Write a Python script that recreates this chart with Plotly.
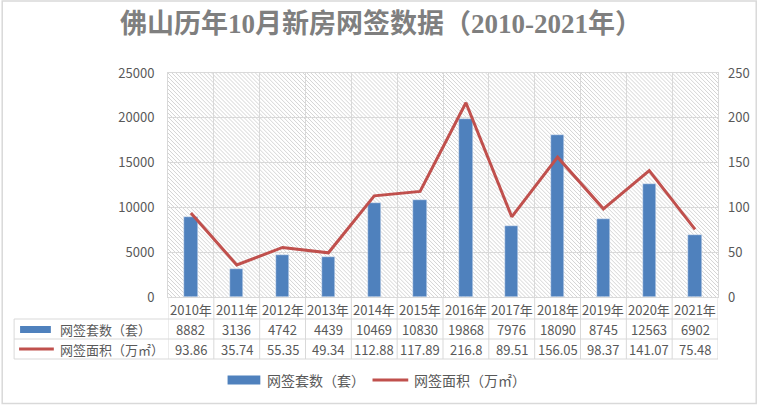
import base64
import plotly.graph_objects as go

# ---------------- data ----------------
years = ["2010年", "2011年", "2012年", "2013年", "2014年", "2015年",
         "2016年", "2017年", "2018年", "2019年", "2020年", "2021年"]
units = [8882, 3136, 4742, 4439, 10469, 10830, 19868, 7976, 18090, 8745, 12563, 6902]
area = [93.86, 35.74, 55.35, 49.34, 112.88, 117.89, 216.8, 89.51, 156.05, 98.37, 141.07, 75.48]
series_names = ["网签套数（套）", "网签面积（万㎡）"]
title_text = "佛山历年10月新房网签数据（2010-2021年）"

# ---------------- layout geometry (pixels) ----------------
W, H = 762, 405
PL, PR, PT, PB = 168, 722, 73, 297          # plot area box
PW, PH = PR - PL, PB - PT


def px(xp):
    return (xp - PL) / PW


def py(yp):
    return (PB - yp) / PH


BLUE = "#4F81BD"
RED = "#C0504D"
GRID = "#D9D9D9"
TXT = "#595959"
FONT = "Noto Sans CJK SC, Noto Sans, sans-serif"

# hatch background as svg image
svg = (
    f'<svg xmlns="http://www.w3.org/2000/svg" width="{PW}" height="{PH}">'
    '<defs><pattern id="p" width="4" height="4" patternUnits="userSpaceOnUse">'
    '<path d="M-1,-1 L5,5 M-1,3 L1,5 M3,-1 L5,1" stroke="#CFCFCF" stroke-width="0.9"/>'
    '</pattern></defs>'
    f'<rect width="{PW}" height="{PH}" fill="white"/>'
    f'<rect width="{PW}" height="{PH}" fill="url(#p)"/></svg>'
)
svg_uri = "data:image/svg+xml;base64," + base64.b64encode(svg.encode()).decode()

fig = go.Figure()
fig.add_trace(go.Bar(x=years, y=units, name=series_names[0], marker_color=BLUE,
                     width=0.29, yaxis="y"))
fig.add_trace(go.Scatter(x=years, y=area, name=series_names[1], mode="lines",
                         line=dict(color=RED, width=3), yaxis="y2"))

shapes = []
annotations = []


def ann(x, y, text, xref="paper", xanchor="center", size=13):
    annotations.append(dict(x=x, y=y, xref=xref, yref="paper", text=text,
                            xanchor=xanchor, yanchor="middle", showarrow=False,
                            font=dict(size=size, color=TXT, family=FONT)))


# table rows (pixel y)
R0, R1, R2, R3 = PB, 319, 339, 359
TL = 13  # table left

# horizontal table lines
for yy in (R1, R2, R3):
    shapes.append(dict(type="line", xref="paper", yref="paper", x0=px(TL), x1=1,
                       y0=py(yy), y1=py(yy), line=dict(color=GRID, width=1)))
# left table edge
shapes.append(dict(type="line", xref="paper", yref="paper", x0=px(TL), x1=px(TL),
                   y0=py(R1), y1=py(R3), line=dict(color=GRID, width=1)))
# vertical table lines at category boundaries
for i in range(len(years) + 1):
    shapes.append(dict(type="line", xref="x", yref="paper", x0=i - 0.5, x1=i - 0.5,
                       y0=py(R0), y1=py(R3), line=dict(color=GRID, width=1)))

# table text
for i, yr in enumerate(years):
    ann(i, py((R0 + R1) / 2 + 1), yr, xref="x")
    ann(i, py((R1 + R2) / 2), str(units[i]), xref="x")
    ann(i, py((R2 + R3) / 2), f"{area[i]:g}", xref="x")

# left column legend keys in table
shapes.append(dict(type="rect", xref="paper", yref="paper", x0=px(19), x1=px(50),
                   y0=py(333), y1=py(326), fillcolor=BLUE, line=dict(width=0)))
shapes.append(dict(type="line", xref="paper", yref="paper", x0=px(18), x1=px(53),
                   y0=py(349), y1=py(349), line=dict(color=RED, width=3)))
ann(px(57), py((R1 + R2) / 2), series_names[0], xanchor="left")
ann(px(57), py((R2 + R3) / 2), series_names[1], xanchor="left")

# bottom legend
LY = 380
shapes.append(dict(type="rect", xref="paper", yref="paper", x0=px(228), x1=px(261),
                   y0=py(LY + 4.5), y1=py(LY - 4.5), fillcolor=BLUE, line=dict(width=0)))
ann(px(266), py(LY), series_names[0], xanchor="left", size=14)
shapes.append(dict(type="line", xref="paper", yref="paper", x0=px(374), x1=px(410),
                   y0=py(LY), y1=py(LY), line=dict(color=RED, width=3)))
ann(px(414), py(LY), series_names[1], xanchor="left", size=14)

# outer frame
shapes.append(dict(type="rect", xref="paper", yref="paper", x0=px(1), x1=px(760.5),
                   y0=py(403.5), y1=py(1), line=dict(color=GRID, width=1.5)))

fig.update_layout(
    width=W, height=H,
    margin=dict(l=PL, r=W - PR, t=PT, b=H - PB, pad=0),
    paper_bgcolor="white",
    plot_bgcolor="rgba(0,0,0,0)",
    showlegend=False,
    bargap=0,
    title=dict(text=f"<b>{title_text}</b>", x=0.5, xanchor="center", y=1 - 24 / H,
               yanchor="middle",
               font=dict(size=27, color="#7F7F7F",
                         family="Liberation Serif, Noto Sans CJK SC, serif")),
    xaxis=dict(type="category", range=[-0.5, len(years) - 0.5], tickson="boundaries",
               showgrid=True, gridcolor=GRID, gridwidth=1, showticklabels=False,
               ticks="", showline=True, linecolor=GRID, mirror=True, zeroline=False),
    yaxis=dict(range=[0, 25000], dtick=5000, tickformat="d", showgrid=True,
               gridcolor=GRID, gridwidth=1,
               zeroline=False, showline=True, linecolor=GRID, mirror=True,
               ticks="", ticklabelstandoff=10,
               tickfont=dict(size=13, color=TXT, family=FONT)),
    yaxis2=dict(range=[0, 250], dtick=50, tickformat="d", overlaying="y", side="right",
                showgrid=False, zeroline=False, showline=False, ticks="",
                ticklabelstandoff=9,
                tickfont=dict(size=13, color=TXT, family=FONT)),
    images=[dict(source=svg_uri, xref="paper", yref="paper", x=0, y=1, sizex=1, sizey=1,
                 sizing="stretch", layer="below", xanchor="left", yanchor="top")],
    shapes=shapes,
    annotations=annotations,
)

fig.write_html("out.html")
